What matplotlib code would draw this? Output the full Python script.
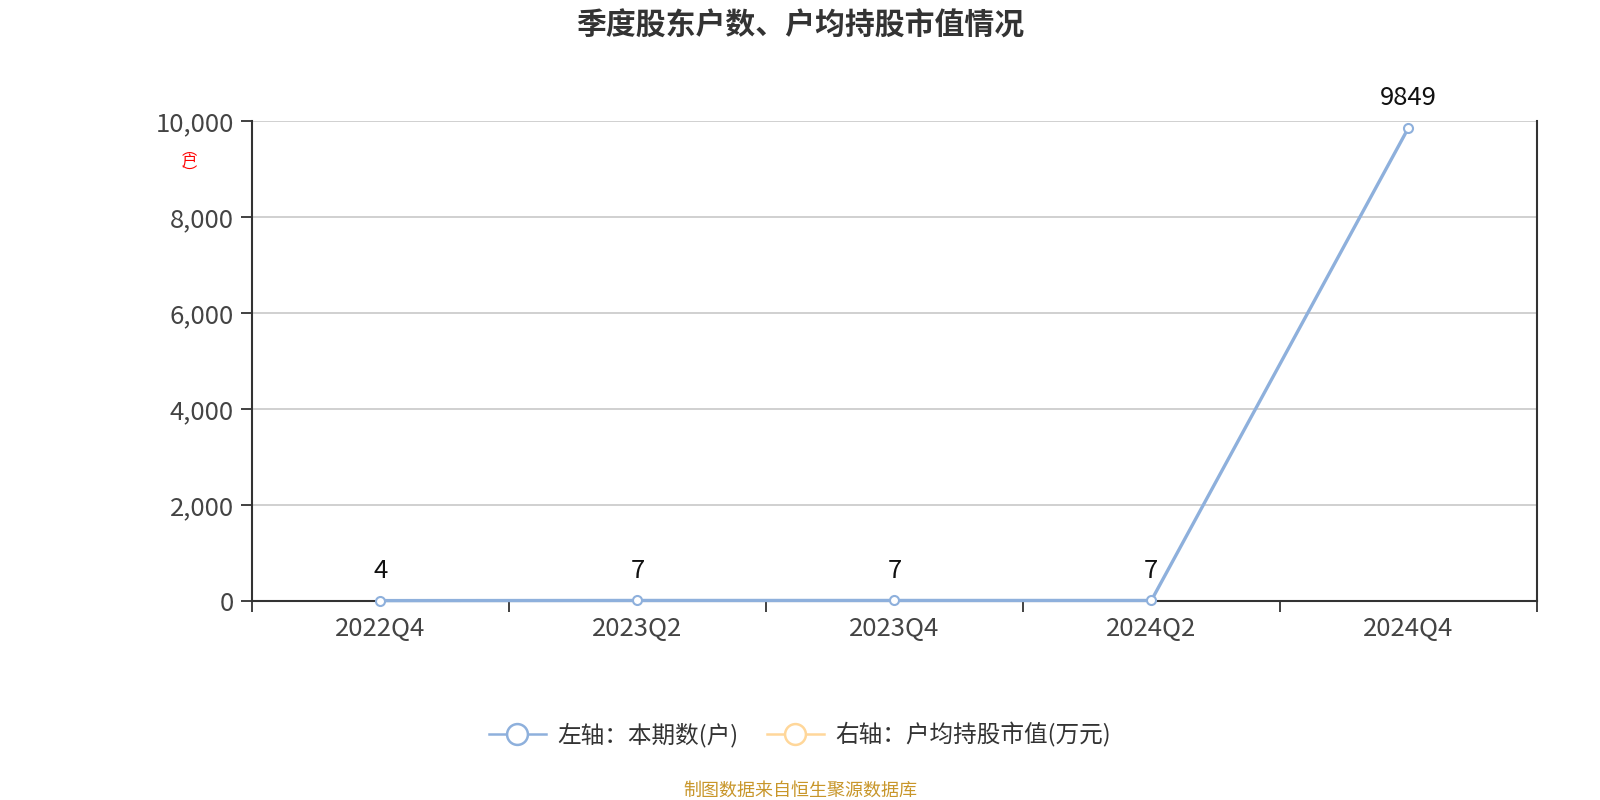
import matplotlib
matplotlib.use("Agg")
import matplotlib.pyplot as plt
from matplotlib.lines import Line2D
from matplotlib.ticker import FuncFormatter, MultipleLocator

plt.rcParams['font.family'] = ['Noto Sans CJK SC', 'DejaVu Sans']

# data
quarters = ['2022Q4', '2023Q2', '2023Q4', '2024Q2', '2024Q4']
holders = [4, 7, 7, 7, 9849]          # 本期数(户)
avg_value = []                        # 户均持股市值(万元) - no data shown

blue = '#8eb0dc'
orange = '#ffd79a'
axis_c = '#333333'

fig = plt.figure(figsize=(16, 8), dpi=100)
ax = fig.add_axes([0.1575, 0.249, 0.803, 0.6])

x = list(range(len(quarters)))
ax.plot(x, holders, color=blue, lw=2.4, marker='o', ms=6.5,
        mfc='white', mec=blue, mew=1.5, zorder=3, clip_on=False)
for xi, v in zip(x, holders):
    ax.annotate(str(v), (xi, v), xytext=(0, 12), textcoords='offset points',
                ha='center', va='bottom', fontsize=18.5, color='#111111')

ax.set_xlim(-0.5, len(quarters) - 0.5)
ax.set_ylim(0, 10000)
ax.yaxis.set_major_locator(MultipleLocator(2000))
ax.yaxis.set_major_formatter(FuncFormatter(lambda v, p: f'{int(v):,}'))
ax.set_xticks(x)
ax.set_xticklabels(quarters)
ax.set_xticks([i - 0.5 for i in range(len(quarters) + 1)], minor=True)
ax.tick_params(axis='x', which='major', length=0, pad=11, labelsize=18.5, labelcolor='#444444')
ax.tick_params(axis='x', which='minor', length=8, width=1.3, color=axis_c, direction='out')
ax.tick_params(axis='y', length=8, width=1.3, color=axis_c, pad=5, labelsize=18.5, labelcolor='#444444')

ax.grid(axis='y', color='#c8c8c8', lw=1.2)
ax.set_axisbelow(True)
for s in ['left', 'bottom', 'right']:
    ax.spines[s].set_color(axis_c)
    ax.spines[s].set_linewidth(1.5)
ax.spines['top'].set_visible(False)

# right axis (empty series)
ax2 = ax.twinx()
ax2.plot([], [], color=orange)
ax2.set_yticks([])
for s in ax2.spines.values():
    s.set_visible(False)

# broken left axis name
fig.text(0.1185, 0.798, '︵\n户\n︶', color='red', fontsize=11, ha='center',
         va='center', linespacing=0.6)

fig.suptitle('季度股东户数、户均持股市值情况', y=0.968, fontsize=21.5,
             fontweight='bold', color='#333333', va='center')

handles = [
    Line2D([], [], color=blue, lw=1.8, marker='o', ms=15, mfc='white', mec=blue, mew=1.8),
    Line2D([], [], color=orange, lw=1.8, marker='o', ms=15, mfc='white', mec=orange, mew=1.8),
]
fig.legend(handles, ['左轴：本期数(户)', '右轴：户均持股市值(万元)'],
           loc='center', bbox_to_anchor=(0.5, 0.081), ncol=2, frameon=False,
           fontsize=17, handlelength=2.4, columnspacing=1.2, handletextpad=0.5,
           labelcolor='#333333')

fig.text(0.5, 0.012, '制图数据来自恒生聚源数据库', ha='center', va='center',
         fontsize=13, color='#c8962a')

fig.savefig('out.png', dpi=100)
